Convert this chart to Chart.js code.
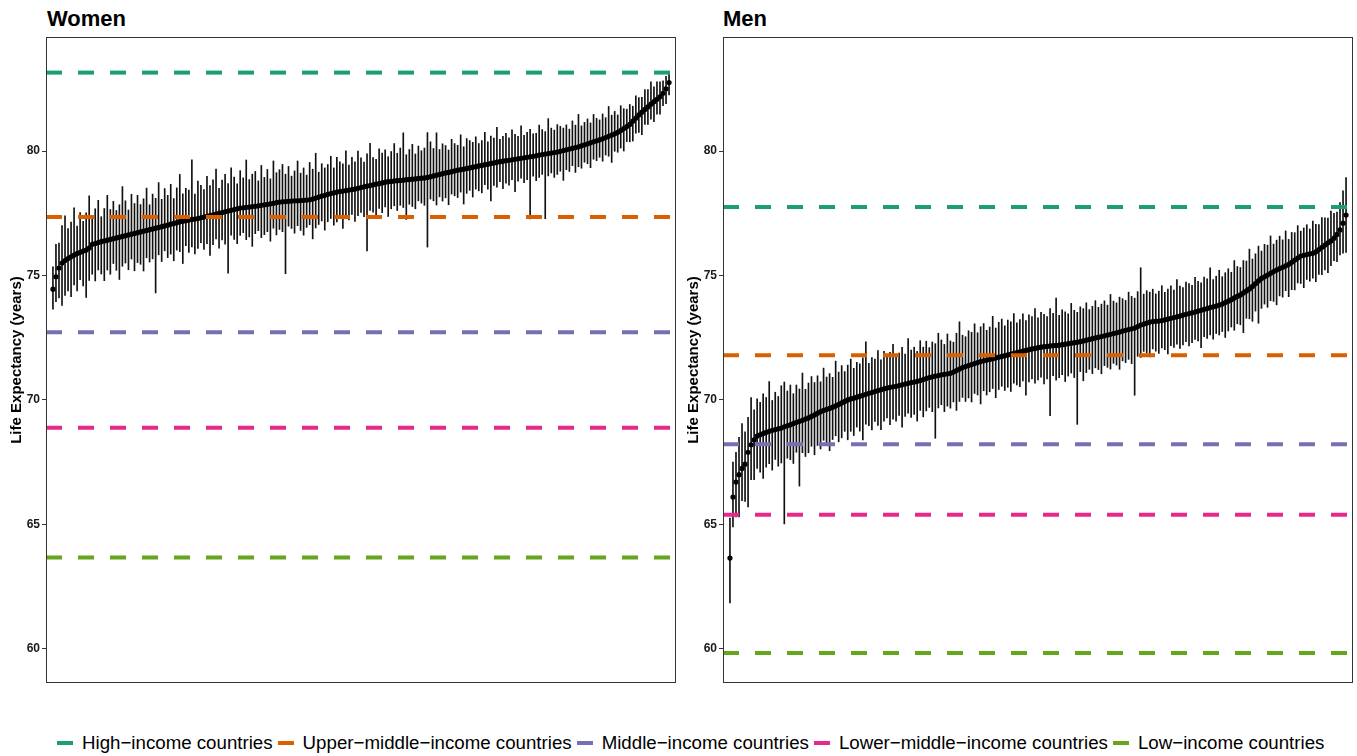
<html>
<head>
<title>Life expectancy by country, women and men</title>
<script src="https://cdn.jsdelivr.net/npm/chart.js@4/dist/chart.umd.min.js"></script>
<style>
  body { margin: 0; background: #fff; font-family: "Liberation Sans", Arial, Helvetica, sans-serif; }
  #wrap { position: relative; width: 1357px; height: 756px; overflow: hidden; }
  .panel-title { position: absolute; top: 8px; font-size: 22px; line-height: 22px; font-weight: bold; color: #000; }
  .box { position: absolute; top: 0; }
  #legend { position: absolute; left: 57px; top: 734px; display: flex; align-items: center; font-size: 18.7px; line-height: 18px; color: #000; white-space: nowrap; }
  #legend .key { display: inline-block; width: 16px; height: 4px; margin-right: 9px; }
  #legend .lbl { margin-right: 5px; }
</style>
</head>
<body>
<div id="wrap">
  <div class="panel-title" style="left:47px">Women</div>
  <div class="panel-title" style="left:723px">Men</div>
  <div class="box" style="left:0"><canvas id="women" width="680" height="700"></canvas></div>
  <div class="box" style="left:677px"><canvas id="men" width="680" height="700"></canvas></div>
  <div id="legend"></div>
</div>

<script>
// life expectancy estimates, countries sorted ascending
const womenMean = [
  74.45, 74.95, 75.3, 75.5, 75.6, 75.68, 75.75, 75.82, 75.88, 75.93,
  75.98, 76.02, 76.1, 76.25, 76.28, 76.32, 76.36, 76.39, 76.42, 76.45,
  76.48, 76.51, 76.54, 76.57, 76.6, 76.63, 76.66, 76.69, 76.72, 76.75,
  76.78, 76.81, 76.84, 76.87, 76.9, 76.93, 76.96, 76.99, 77.02, 77.06,
  77.09, 77.12, 77.16, 77.18, 77.2, 77.23, 77.25, 77.27, 77.29, 77.32,
  77.35, 77.38, 77.41, 77.44, 77.47, 77.5, 77.53, 77.56, 77.59, 77.62,
  77.65, 77.68, 77.71, 77.72, 77.74, 77.75, 77.77, 77.78, 77.8, 77.82,
  77.84, 77.86, 77.88, 77.9, 77.93, 77.95, 77.96, 77.97, 77.98, 77.99,
  78.0, 78.0, 78.01, 78.02, 78.03, 78.04, 78.07, 78.11, 78.15, 78.19,
  78.22, 78.26, 78.29, 78.32, 78.35, 78.37, 78.39, 78.41, 78.43, 78.45,
  78.47, 78.5, 78.53, 78.56, 78.59, 78.61, 78.64, 78.67, 78.69, 78.72,
  78.75, 78.77, 78.78, 78.8, 78.81, 78.82, 78.83, 78.85, 78.86, 78.87,
  78.88, 78.9, 78.91, 78.92, 78.94, 78.97, 79.0, 79.03, 79.06, 79.09,
  79.12, 79.14, 79.17, 79.2, 79.23, 79.25, 79.27, 79.3, 79.32, 79.35,
  79.37, 79.4, 79.42, 79.45, 79.47, 79.5, 79.52, 79.55, 79.57, 79.59,
  79.61, 79.63, 79.65, 79.67, 79.69, 79.71, 79.73, 79.75, 79.77, 79.79,
  79.81, 79.84, 79.86, 79.88, 79.9, 79.92, 79.94, 79.96, 79.99, 80.02,
  80.05, 80.08, 80.11, 80.14, 80.17, 80.21, 80.25, 80.29, 80.33, 80.37,
  80.41, 80.45, 80.49, 80.54, 80.59, 80.64, 80.69, 80.75, 80.82, 80.9,
  80.98, 81.07, 81.2, 81.32, 81.45, 81.56, 81.67, 81.77, 81.88, 81.98,
  82.08, 82.18, 82.32, 82.5, 82.75
];
// distance from the estimate down to the lower bound
const womenErrLo = [
  0.8, 1.0, 1.2, 1.7, 1.4, 1.3, 1.6, 1.2, 1.5, 1.1,
  1.4, 1.9, 1.3, 1.2, 1.5, 1.1, 1.3, 1.6, 1.2, 1.4,
  1.0, 1.3, 1.7, 1.2, 1.1, 1.4, 1.0, 1.5, 1.2, 1.3,
  1.6, 1.1, 1.3, 1.2, 2.6, 1.1, 1.4, 1.0, 1.3, 1.2,
  1.5, 1.1, 1.2, 1.7, 1.0, 1.3, 1.1, 1.4, 1.2, 1.0,
  1.3, 1.1, 1.6, 1.2, 1.0, 1.4, 1.1, 1.3, 2.5, 1.0,
  1.2, 1.4, 1.1, 1.0, 1.3, 1.2, 1.6, 1.1, 1.0, 1.3,
  1.2, 1.1, 1.5, 1.0, 1.3, 1.1, 1.2, 2.9, 1.0, 1.1,
  1.3, 1.0, 1.2, 1.4, 1.1, 1.0, 1.6, 1.2, 1.1, 1.0,
  1.4, 1.1, 1.0, 1.3, 1.2, 1.0, 1.5, 1.1, 1.2, 1.0,
  1.3, 1.1, 1.0, 1.2, 2.6, 1.0, 1.1, 1.3, 1.0, 1.2,
  1.0, 1.4, 1.1, 1.0, 1.2, 1.0, 1.1, 1.6, 1.0, 1.1,
  1.2, 0.9, 1.0, 1.1, 2.8, 0.9, 1.0, 1.2, 0.9, 1.1,
  1.0, 1.3, 0.9, 1.0, 1.1, 0.9, 1.4, 1.0, 0.9, 1.2,
  0.9, 1.0, 1.1, 0.8, 1.0, 1.5, 0.9, 1.0, 0.8, 1.1,
  0.9, 1.0, 0.8, 1.3, 0.9, 0.8, 1.0, 0.9, 2.5, 0.8,
  1.0, 0.9, 0.8, 2.6, 0.9, 0.8, 1.0, 0.9, 0.8, 1.2,
  0.8, 0.9, 0.7, 1.0, 0.8, 0.9, 0.7, 0.8, 1.0, 0.7,
  0.8, 0.7, 0.9, 0.7, 0.8, 1.1, 0.7, 0.8, 0.7, 0.9,
  0.6, 0.7, 0.8, 0.6, 0.7, 0.9, 0.6, 0.7, 0.6, 0.8,
  0.6, 0.7, 0.5, 0.6, 0.5
];
// distance from the estimate up to the upper bound
const womenErrHi = [
  0.9, 1.3, 1.0, 1.5, 1.8, 1.2, 1.4, 1.9, 1.1, 1.6,
  1.2, 1.5, 2.1, 1.1, 1.4, 1.7, 1.0, 1.3, 1.8, 1.2,
  1.5, 1.1, 1.3, 2.0, 1.4, 1.0, 1.6, 1.2, 1.5, 1.1,
  1.3, 1.7, 1.0, 1.4, 1.2, 1.8, 1.1, 1.5, 1.2, 1.6,
  1.0, 1.4, 1.9, 1.1, 1.3, 1.2, 2.4, 1.0, 1.5, 1.3,
  1.1, 1.6, 1.2, 1.4, 1.8, 1.0, 1.3, 1.5, 1.1, 1.7,
  1.3, 1.0, 1.5, 1.2, 1.9, 1.1, 1.3, 1.4, 1.0, 1.6,
  1.1, 1.4, 1.0, 1.7, 1.2, 1.3, 1.5, 1.1, 1.4, 1.0,
  1.2, 1.6, 1.1, 1.3, 1.0, 1.5, 1.2, 1.8, 1.0, 1.3,
  1.1, 1.2, 1.5, 1.0, 1.4, 1.2, 1.1, 1.6, 1.0, 1.3,
  1.1, 1.5, 1.2, 1.0, 1.3, 1.7, 1.1, 1.0, 1.4, 1.2,
  1.3, 1.0, 1.2, 1.5, 1.1, 1.3, 1.9, 1.0, 1.2, 1.4,
  1.0, 1.3, 1.1, 1.2, 1.8, 1.4, 1.1, 1.7, 1.0, 1.2,
  1.1, 0.9, 1.3, 1.1, 1.0, 1.4, 0.9, 1.2, 1.1, 1.0,
  1.2, 0.9, 1.0, 1.3, 0.9, 1.1, 1.0, 1.4, 0.9, 1.0,
  1.1, 0.9, 1.2, 1.0, 0.9, 1.3, 0.9, 1.0, 1.1, 0.9,
  0.9, 1.2, 1.0, 0.9, 1.4, 1.0, 0.9, 1.1, 1.0, 0.9,
  1.0, 0.8, 1.1, 0.9, 1.3, 0.8, 0.9, 1.0, 0.8, 1.1,
  0.9, 0.8, 1.0, 0.8, 1.2, 0.8, 0.9, 0.7, 1.0, 0.8,
  0.7, 0.8, 0.6, 0.9, 0.7, 0.6, 0.8, 0.7, 0.9, 0.6,
  0.7, 0.6, 0.5, 0.5, 0.4
];
const menMean = [
  63.65, 66.1, 66.7, 67.0, 67.25, 67.42, 67.9, 68.2, 68.4, 68.55,
  68.6, 68.65, 68.7, 68.74, 68.78, 68.81, 68.84, 68.87, 68.92, 68.96,
  69.0, 69.05, 69.1, 69.14, 69.18, 69.23, 69.28, 69.34, 69.4, 69.47,
  69.53, 69.58, 69.62, 69.66, 69.71, 69.76, 69.82, 69.88, 69.94, 70.0,
  70.04, 70.07, 70.11, 70.15, 70.19, 70.23, 70.27, 70.3, 70.34, 70.38,
  70.41, 70.45, 70.48, 70.51, 70.53, 70.55, 70.58, 70.61, 70.64, 70.67,
  70.7, 70.72, 70.75, 70.78, 70.82, 70.86, 70.9, 70.93, 70.96, 70.98,
  71.01, 71.03, 71.05, 71.07, 71.12, 71.18, 71.24, 71.3, 71.34, 71.38,
  71.42, 71.46, 71.5, 71.54, 71.57, 71.6, 71.63, 71.66, 71.69, 71.72,
  71.75, 71.78, 71.81, 71.84, 71.87, 71.9, 71.93, 71.96, 71.99, 72.02,
  72.05, 72.07, 72.1, 72.12, 72.14, 72.15, 72.17, 72.18, 72.19, 72.2,
  72.22, 72.24, 72.26, 72.28, 72.3, 72.32, 72.34, 72.37, 72.4, 72.43,
  72.46, 72.49, 72.52, 72.55, 72.58, 72.61, 72.64, 72.67, 72.7, 72.73,
  72.77, 72.8, 72.83, 72.86, 72.89, 72.95, 73.01, 73.05, 73.09, 73.13,
  73.15, 73.16, 73.17, 73.19, 73.22, 73.25, 73.28, 73.31, 73.34, 73.37,
  73.41, 73.44, 73.47, 73.5, 73.53, 73.57, 73.6, 73.64, 73.67, 73.71,
  73.74, 73.77, 73.81, 73.85, 73.91, 73.97, 74.03, 74.1, 74.16, 74.22,
  74.3, 74.38, 74.46, 74.56, 74.67, 74.78, 74.88, 74.95, 75.02, 75.09,
  75.16, 75.22, 75.28, 75.33, 75.39, 75.45, 75.53, 75.62, 75.7, 75.78,
  75.81, 75.84, 75.87, 75.89, 75.95, 76.04, 76.13, 76.22, 76.31, 76.39,
  76.5, 76.65, 76.83, 77.1, 77.43
];
const menErrLo = [
  1.8, 1.2, 1.4, 1.7, 1.3, 1.5, 2.2, 1.4, 1.6, 1.3,
  1.5, 1.8, 1.4, 1.3, 1.6, 1.2, 1.5, 1.4, 3.9, 1.3,
  1.4, 1.6, 1.2, 2.6, 1.3, 1.5, 1.4, 1.2, 1.6, 1.3,
  1.5, 1.2, 1.4, 1.7, 1.3, 1.2, 1.5, 1.4, 1.2, 1.6,
  1.3, 1.5, 1.2, 1.4, 1.8, 1.2, 1.3, 1.5, 1.2, 1.4,
  1.6, 1.3, 1.2, 1.5, 1.3, 1.4, 1.2, 1.7, 1.3, 1.2,
  1.4, 1.3, 1.6, 1.2, 1.5, 1.3, 1.2, 1.4, 2.5, 1.3,
  1.2, 1.5, 1.3, 1.4, 1.2, 1.6, 1.3, 1.2, 1.4, 1.3,
  1.5, 1.2, 1.3, 1.7, 1.2, 1.4, 1.3, 1.2, 1.6, 1.3,
  1.2, 1.4, 1.3, 1.5, 1.2, 1.3, 1.4, 1.2, 1.8, 1.3,
  1.2, 1.4, 1.3, 1.2, 1.5, 1.3, 2.8, 1.2, 1.4, 1.3,
  1.2, 1.5, 1.3, 1.2, 1.4, 3.3, 1.2, 1.6, 1.3, 1.2,
  1.4, 1.2, 1.3, 1.5, 1.2, 1.3, 1.4, 1.2, 1.3, 1.5,
  1.2, 1.3, 1.2, 1.4, 2.7, 1.2, 1.3, 1.1, 1.2, 1.4,
  1.1, 1.2, 1.3, 1.1, 1.2, 1.4, 1.1, 1.2, 1.1, 1.3,
  1.2, 1.1, 1.3, 1.2, 1.1, 1.2, 1.5, 1.1, 1.2, 1.1,
  1.3, 1.1, 1.2, 1.1, 1.4, 1.2, 1.1, 1.3, 1.1, 1.2,
  1.6, 1.1, 1.2, 1.4, 1.1, 1.7, 1.2, 1.1, 1.3, 1.1,
  1.2, 1.4, 1.1, 1.2, 1.0, 1.3, 1.1, 1.2, 1.0, 1.1,
  1.3, 1.0, 1.1, 1.0, 1.2, 1.0, 1.1, 1.0, 1.2, 1.0,
  0.9, 1.1, 1.0, 1.2, 1.5
];
const menErrHi = [
  1.6, 1.4, 1.2, 1.5, 1.8, 1.3, 1.4, 1.9, 1.2, 1.5,
  1.3, 1.6, 1.4, 2.0, 1.2, 1.5, 1.3, 1.7, 1.8, 1.4,
  1.6, 1.2, 1.5, 1.3, 1.9, 1.2, 1.4, 1.6, 1.3, 1.5,
  1.2, 1.7, 1.3, 1.4, 1.2, 1.8, 1.3, 1.5, 1.2, 1.4,
  1.6, 1.2, 1.4, 1.3, 1.5, 2.1, 1.2, 1.4, 1.3, 1.6,
  1.2, 1.5, 1.3, 1.4, 1.7, 1.2, 1.3, 1.5, 1.2, 1.8,
  1.3, 1.4, 1.2, 1.6, 1.3, 1.5, 1.2, 1.4, 1.3, 1.7,
  1.4, 1.2, 1.6, 1.3, 1.2, 1.5, 1.9, 1.3, 1.2, 1.4,
  1.3, 1.6, 1.2, 1.4, 1.5, 1.2, 1.3, 1.7, 1.2, 1.4,
  1.5, 1.2, 1.4, 1.3, 1.6, 1.2, 1.3, 1.5, 1.2, 1.4,
  1.3, 1.6, 1.2, 1.4, 1.3, 1.2, 1.5, 1.3, 1.9, 1.2,
  1.4, 1.3, 1.2, 1.6, 1.3, 1.2, 1.4, 1.3, 1.5, 1.2,
  1.3, 1.5, 1.2, 1.3, 1.4, 1.2, 1.6, 1.3, 1.2, 1.4,
  1.3, 1.2, 1.5, 1.3, 1.2, 1.4, 2.3, 1.2, 1.3, 1.2,
  1.3, 1.1, 1.2, 1.4, 1.1, 1.2, 1.3, 1.1, 1.5, 1.2,
  1.1, 1.3, 1.2, 1.1, 1.4, 1.2, 1.1, 1.3, 1.2, 1.6,
  1.1, 1.2, 1.4, 1.1, 1.2, 1.3, 1.1, 1.5, 1.2, 1.1,
  1.3, 1.2, 1.6, 1.1, 1.2, 1.4, 1.1, 1.3, 1.2, 1.5,
  1.1, 1.2, 1.3, 1.1, 1.4, 1.0, 1.2, 1.1, 1.3, 1.0,
  1.1, 1.2, 1.0, 1.3, 1.1, 1.0, 1.2, 1.1, 1.0, 1.2,
  1.0, 0.9, 1.1, 1.3, 1.5
];

const incomeGroups = [
  "High\u2212income countries",
  "Upper\u2212middle\u2212income countries",
  "Middle\u2212income countries",
  "Lower\u2212middle\u2212income countries",
  "Low\u2212income countries"
];
const womenGroupLevels = [83.15, 77.35, 72.72, 68.88, 63.67];
const menGroupLevels = [77.75, 71.8, 68.22, 65.39, 59.84];
const yTicks = [60, 65, 70, 75, 80];

const groupColors = ["#1B9E77", "#D95F02", "#7570B3", "#E7298A", "#66A61E"];
const FONT = '"Liberation Sans", Arial, Helvetica, sans-serif';
const X_MIN = -2.3, X_MAX = 206.3;

// thin frame round the plot area, like the ggplot panel border
const panelBorder = {
  id: "panelBorder",
  afterDatasetsDraw(chart) {
    const a = chart.chartArea, c = chart.ctx;
    c.save();
    c.strokeStyle = "#333";
    c.lineWidth = 1;
    c.strokeRect(a.left + 0.5, a.top + 0.5, a.right - a.left - 1, a.bottom - a.top - 1);
    c.restore();
  }
};

function makeChart(id, mean, errLo, errHi, levels) {
  const hlines = levels.map((v, k) => ({
    type: "line",
    label: incomeGroups[k],
    data: [{ x: X_MIN, y: v }, { x: X_MAX, y: v }],
    showLine: true,
    borderColor: groupColors[k],
    borderWidth: 4,
    borderDash: [16, 16],
    borderCapStyle: "butt",
    pointRadius: 0,
    order: 0
  }));
  return new Chart(document.getElementById(id), {
    type: "scatter",
    data: {
      datasets: [
        ...hlines,
        {
          type: "scatter",
          label: "estimate",
          data: mean.map((v, i) => ({ x: i, y: v })),
          pointRadius: 2.6,
          pointBackgroundColor: "#000",
          pointBorderWidth: 0,
          order: 1
        },
        {
          type: "bar",
          label: "interval",
          data: mean.map((v, i) => ({ x: i, y: [v - errLo[i], v + errHi[i]] })),
          backgroundColor: "#111",
          barThickness: 1,
          order: 2
        }
      ]
    },
    options: {
      responsive: false,
      animation: false,
      layout: { padding: { left: 0, top: 37, right: 3, bottom: 17 } },
      plugins: { legend: { display: false }, tooltip: { enabled: false } },
      scales: {
        x: { type: "linear", display: false, min: X_MIN, max: X_MAX, offset: false },
        y: {
          type: "linear",
          min: 58.63,
          max: 84.58,
          afterFit: s => { s.width = 46; },
          afterBuildTicks: s => { s.ticks = yTicks.map(v => ({ value: v })); },
          ticks: { font: { family: FONT, size: 12, weight: "bold" }, color: "#1a1a1a", padding: 2 },
          grid: { drawOnChartArea: false, drawTicks: true, tickLength: 4, tickColor: "#333" },
          border: { display: false },
          title: {
            display: true,
            text: "Life Expectancy (years)",
            font: { family: FONT, size: 15, weight: "bold" },
            color: "#000",
            padding: { top: 8, bottom: 0 }
          }
        }
      }
    },
    plugins: [panelBorder]
  });
}

makeChart("women", womenMean, womenErrLo, womenErrHi, womenGroupLevels);
makeChart("men", menMean, menErrLo, menErrHi, menGroupLevels);

// shared legend below both panels
const legend = document.getElementById("legend");
incomeGroups.forEach((name, k) => {
  const key = document.createElement("span");
  key.className = "key";
  key.style.background = groupColors[k];
  const lbl = document.createElement("span");
  lbl.className = "lbl";
  lbl.textContent = name;
  legend.appendChild(key);
  legend.appendChild(lbl);
});
</script>
</body>
</html>
